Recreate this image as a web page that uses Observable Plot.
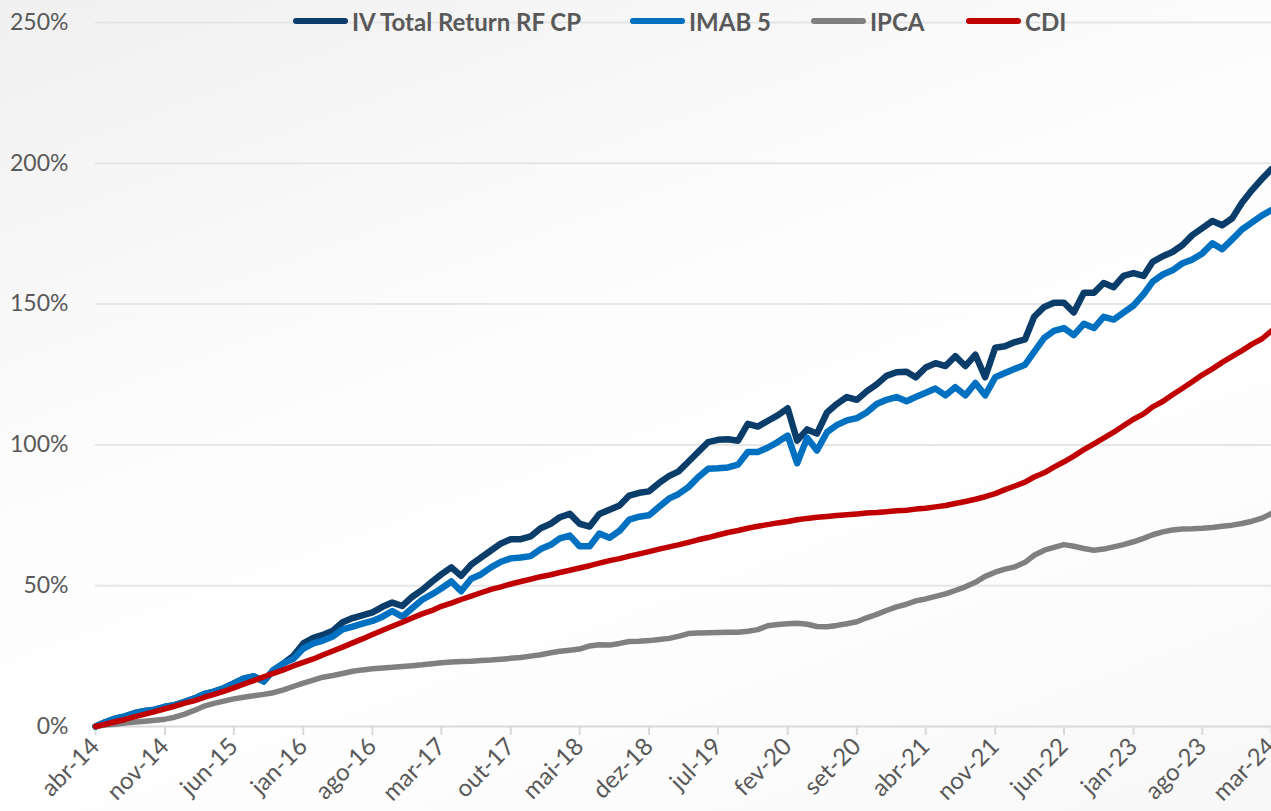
<!DOCTYPE html>
<html><head><meta charset="utf-8">
<script src="https://cdn.jsdelivr.net/npm/d3@7"></script>
<script src="https://cdn.jsdelivr.net/npm/@observablehq/plot@0.6"></script>
<style>
html,body{margin:0;padding:0;overflow:hidden;}
body{width:1271px;height:811px;position:relative;background:linear-gradient(160deg,#f0f0f0 0%,#fcfcfc 38%,#ffffff 60%,#f8f8f8 100%);font-family:Lato,"Open Sans",sans-serif;}
#chart svg{background:none !important;}
#legend{position:absolute;top:0;left:0;width:1271px;height:44px;}
.item{position:absolute;top:7px;height:28px;display:flex;align-items:center;font-weight:bold;font-size:24px;color:#595959;font-family:Lato,"Open Sans",sans-serif;white-space:nowrap;}
.sw{width:55px;height:6px;border-radius:3px;margin-right:4px;}
</style></head><body>
<div id="chart"></div>
<div id="legend"></div>
<script>
// Series names and colours
const seriesNames = ["IV Total Return RF CP", "IMAB 5", "IPCA", "CDI"];
const seriesColors = ["#0b3d6b", "#0070c0", "#808080", "#c00000"];
const ptMonths = ["jan","fev","mar","abr","mai","jun","jul","ago","set","out","nov","dez"];
const yTicks = [0, 50, 100, 150, 200, 250];

// Monthly cumulative return (%) from abr-14 to mar-24
const ivTotalReturn = [
0,1.5,2.8,3.6,4.8,5.5,6.0,7.0,7.6,8.8,10.0,11.5,
12.4,13.6,15.3,17.0,17.8,16.0,20.0,22.4,25.0,29.5,31.5,32.5,
34.0,37.0,38.5,39.5,40.5,42.5,44.0,42.8,46.0,48.5,51.5,54.0,
56.5,53.5,57.5,60.0,62.5,65.0,66.5,66.5,67.5,70.4,72.0,74.3,
75.5,72.0,71.0,75.5,77.0,78.5,82.0,83.0,83.5,86.5,89.0,90.5,
94.0,97.5,101.0,101.8,102.0,101.5,107.5,106.5,108.5,110.5,113.0,101.5,
105.5,104.0,111.5,114.5,117.0,116.0,119.0,121.5,124.5,125.8,126.0,124.0,
127.5,129.0,128.0,131.5,128.0,132.0,124.0,134.5,135.0,136.5,137.5,145.5,
149.0,150.5,150.5,147.0,154.0,154.0,157.5,156.0,160.0,161.0,160.0,165.0,
167.0,168.5,171.0,174.5,177.0,179.5,178.0,180.5,186.0,190.5,194.5,198.0
];
const imab5 = [
0,1.5,2.8,3.6,4.8,5.5,6.0,7.0,7.6,8.8,10.0,11.5,
12.4,13.6,15.3,17.0,17.8,16.0,20.0,22.4,24.0,27.7,29.5,30.5,
32.0,34.5,35.5,36.5,37.5,39.0,41.0,39.0,42.0,45.0,47.0,49.0,
51.5,48.0,52.5,54.0,56.5,58.5,59.7,60.0,60.5,63.0,64.5,66.8,
67.8,64.0,64.0,68.5,67.0,69.5,73.5,74.5,75.0,78.0,81.0,82.5,
85.0,88.5,91.5,91.7,92.0,93.0,97.5,97.5,99.0,101.0,103.3,93.5,
102.5,98.0,104.5,107.0,108.7,109.5,111.5,114.5,116.0,117.0,115.5,117.0,
118.5,120.0,117.6,120.5,117.6,122.0,117.6,124.0,125.5,127.0,128.5,133.0,
138.0,140.5,141.5,139.0,143.0,141.5,145.5,144.5,147.0,149.5,153.5,158.0,
160.5,162.0,164.5,165.8,168.0,171.6,169.5,173.0,176.5,179.0,181.5,183.4
];
const ipca = [
0,0.5,0.8,1.2,1.6,1.9,2.2,2.6,3.3,4.4,5.8,7.2,
8.2,9.0,9.8,10.4,10.9,11.4,12.0,13.0,14.2,15.4,16.5,17.5,
18.1,18.8,19.6,20.1,20.5,20.8,21.0,21.3,21.6,21.9,22.3,22.6,
22.9,23.1,23.2,23.4,23.6,23.9,24.2,24.5,25.0,25.5,26.2,26.7,
27.1,27.5,28.6,29.0,28.9,29.5,30.2,30.3,30.5,30.9,31.3,32.0,
33.0,33.2,33.3,33.4,33.5,33.5,33.8,34.4,35.8,36.2,36.5,36.7,
36.3,35.5,35.4,35.9,36.5,37.2,38.6,39.8,41.2,42.5,43.4,44.6,
45.3,46.2,47.1,48.3,49.6,51.2,53.3,54.8,55.9,56.7,58.3,60.8,
62.6,63.6,64.6,64.0,63.2,62.6,63.0,63.8,64.6,65.6,66.8,68.1,
69.1,69.8,70.1,70.2,70.4,70.7,71.1,71.5,72.1,72.9,74.0,75.7
];
const cdi = [
0,0.8,1.7,2.5,3.5,4.4,5.3,6.3,7.2,8.3,9.2,10.3,
11.4,12.5,13.7,15.0,16.3,17.6,18.9,20.1,21.5,22.8,24.0,25.4,
26.8,28.2,29.7,31.1,32.7,34.2,35.6,37.0,38.5,40.0,41.2,42.7,
43.8,45.1,46.3,47.5,48.7,49.6,50.6,51.5,52.3,53.2,53.9,54.7,
55.5,56.3,57.1,58.0,58.9,59.6,60.5,61.3,62.1,63.0,63.8,64.5,
65.4,66.3,67.1,68.0,68.9,69.6,70.4,71.1,71.7,72.3,72.8,73.4,
73.9,74.3,74.6,74.9,75.2,75.5,75.8,76.0,76.3,76.6,76.8,77.2,
77.5,78.0,78.5,79.2,79.9,80.7,81.6,82.7,84.1,85.4,86.8,88.6,
90.1,92.1,94.0,96.0,98.3,100.4,102.4,104.5,106.8,109.1,111.0,113.5,
115.4,117.8,120.1,122.4,124.9,127.0,129.3,131.4,133.5,135.8,137.7,140.5
];

const start = new Date(Date.UTC(2014, 3, 1));
const end = new Date(Date.UTC(2024, 2, 1));
const months = d3.utcMonth.range(start, d3.utcMonth.offset(end, 1));
const xTicks = months.filter((d, i) => i % 7 === 0);
const fmt = d => ptMonths[d.getUTCMonth()] + "-" + String(d.getUTCFullYear()).slice(2);

const allValues = [ivTotalReturn, imab5, ipca, cdi];
const rows = [];
allValues.forEach((arr, s) => arr.forEach((v, i) => rows.push({date: months[i], value: v, series: seriesNames[s]})));
const bySeries = name => rows.filter(r => r.series === name);

const widths = [6.5, 6.5, 5.5, 5.5];

const chart = Plot.plot({
  width: 1271,
  height: 811,
  marginLeft: 95,
  marginRight: 0,
  marginTop: 22,
  marginBottom: 85,
  style: {background: "none", fontFamily: "Lato, 'Open Sans', sans-serif", overflow: "visible"},
  x: {type: "utc", domain: [start, end]},
  y: {domain: [0, 250]},
  marks: [
    Plot.gridY(yTicks.filter(t => t > 0), {stroke: "#e6e6e6", strokeOpacity: 1, strokeWidth: 2}),
    Plot.ruleY([0], {stroke: "#d9d9d9", strokeWidth: 2}),
    Plot.axisY({ticks: yTicks, tickFormat: d => d + "%", tickSize: 0, tickPadding: 27, fontSize: 23, fill: "#595959", label: null}),
    Plot.axisX({ticks: xTicks, tickFormat: fmt, tickRotate: -45, tickSize: 9, tickPadding: 7, stroke: "#d9d9d9", strokeWidth: 2, fontSize: 24, fill: "#595959", label: null}),
    ...seriesNames.map((name, s) => Plot.line(bySeries(name), {x: "date", y: "value", stroke: seriesColors[s], strokeWidth: widths[s], strokeLinejoin: "round", strokeLinecap: "round"}))
  ]
});
document.getElementById("chart").appendChild(chart);

// Legend
const legendLeft = [293, 630, 811, 966];
const legend = document.getElementById("legend");
seriesNames.forEach((name, s) => {
  const item = document.createElement("div");
  item.className = "item";
  item.style.left = legendLeft[s] + "px";
  const sw = document.createElement("div");
  sw.className = "sw";
  sw.style.background = seriesColors[s];
  const t = document.createElement("span");
  t.textContent = name;
  item.appendChild(sw);
  item.appendChild(t);
  legend.appendChild(item);
});
</script></body></html>
